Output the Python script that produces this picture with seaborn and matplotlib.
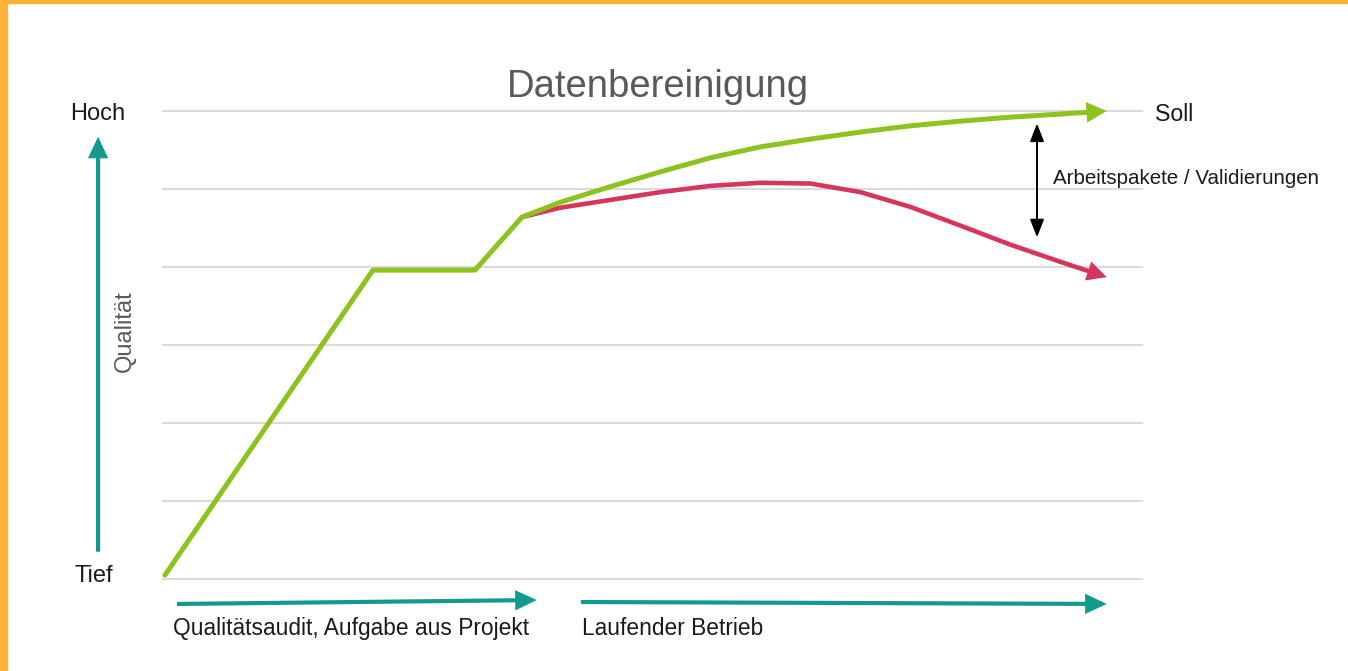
import matplotlib
matplotlib.use("Agg")
import matplotlib.pyplot as plt
import seaborn as sns
import pandas as pd
from matplotlib.patches import Rectangle

# ---- data ----
soll_x = [0.03, 2.15, 3.19, 3.67, 4.06, 4.57, 5.08, 5.59, 6.10, 6.61, 7.12,
          7.63, 8.14, 8.64, 9.15, 9.63]
soll_y = [0.05, 3.96, 3.96, 4.64, 4.83, 5.03, 5.22, 5.40, 5.54, 5.64, 5.73,
          5.81, 5.87, 5.92, 5.96, 6.00]
ist_x = [3.67, 4.06, 4.57, 5.08, 5.59, 6.10, 6.61, 7.12, 7.63, 8.14, 8.64,
         9.15, 9.63]
ist_y = [4.64, 4.76, 4.86, 4.96, 5.04, 5.08, 5.07, 4.96, 4.77, 4.53, 4.29,
         4.07, 3.87]
grid_levels = [0, 1, 2, 3, 4, 5, 6]

title = "Datenbereinigung"
y_high, y_low, y_name = "Hoch", "Tief", "Qualität"
soll_label = "Soll"
gap_label = "Arbeitspakete / Validierungen"
phase_labels = ["Qualitätsaudit, Aufgabe aus Projekt", "Laufender Betrieb"]

GREEN = "#8EC21F"
RED = "#D6365E"
TEAL = "#139A8F"
GRID = "#D9D9D9"
ORANGE = "#FBB237"
TXT = "#1A1A1A"
GRAY = "#595959"

sns.set_style("white")
plt.rcParams["font.family"] = ["Liberation Sans", "DejaVu Sans"]

fig = plt.figure(figsize=(13.48, 6.71), dpi=100)
ax = fig.add_axes([0.1202, 0.1255, 0.7277, 0.7207])
ax.set_xlim(0, 10)
ax.set_ylim(-0.1, 6.1)

for lv in grid_levels:
    ax.axhline(lv, color=GRID, lw=1.4, zorder=0)

# lines (all but the last segment, which is drawn as an arrow)
df_soll = pd.DataFrame({"x": soll_x[:-1], "y": soll_y[:-1]})
df_ist = pd.DataFrame({"x": ist_x[:-1], "y": ist_y[:-1]})
sns.lineplot(data=df_ist, x="x", y="y", sort=False, color=RED, lw=3.3, ax=ax,
             solid_joinstyle="round", zorder=2)
sns.lineplot(data=df_soll, x="x", y="y", sort=False, color=GREEN, lw=3.6, ax=ax,
             solid_joinstyle="round", zorder=3)

for xs, ys, c, w, z in [(soll_x, soll_y, GREEN, 3.6, 3), (ist_x, ist_y, RED, 3.3, 2)]:
    ax.annotate("", xy=(xs[-1], ys[-1]), xytext=(xs[-2], ys[-2]),
                arrowprops=dict(arrowstyle="-|>,head_length=0.55,head_width=0.28",
                                color=c, lw=w, mutation_scale=16,
                                shrinkA=0, shrinkB=0, joinstyle="miter",
                                capstyle="butt"), zorder=z)

# double arrow between Soll and Ist
gap_x, gap_top, gap_bot = 8.92, 5.84, 4.38
ax.annotate("", xy=(gap_x, gap_top), xytext=(gap_x, gap_bot),
            arrowprops=dict(arrowstyle="<|-|>,head_length=0.9,head_width=0.35",
                            color="black", lw=1.4, mutation_scale=12,
                            shrinkA=0, shrinkB=0))

# teal axis arrows (outside the plot area)
teal_style = dict(arrowstyle="-|>,head_length=0.7,head_width=0.33", color=TEAL,
                  lw=3.0, mutation_scale=15, shrinkA=0, shrinkB=0,
                  joinstyle="miter", capstyle="butt")
ax.annotate("", xy=(-0.652, 5.67), xytext=(-0.652, 0.35),
            arrowprops=teal_style, annotation_clip=False)
ax.annotate("", xy=(3.82, -0.27), xytext=(0.153, -0.32),
            arrowprops=teal_style, annotation_clip=False)
ax.annotate("", xy=(9.63, -0.32), xytext=(4.27, -0.295),
            arrowprops=teal_style, annotation_clip=False)

# texts
ax.text(5.06, 6.31, title, ha="center", va="center", fontsize=27.5, color=GRAY)
ax.text(-0.652, 5.96, y_high, ha="center", va="center", fontsize=17, color=TXT)
ax.text(-0.70, 0.04, y_low, ha="center", va="center", fontsize=17, color=TXT)
ax.text(-0.377, 3.18, y_name, ha="center", va="center", fontsize=17,
        color=GRAY, rotation=90)
ax.text(10.12, 5.96, soll_label, ha="left", va="center", fontsize=16.7, color=TXT)
ax.text(9.08, 5.13, gap_label, ha="left", va="center", fontsize=14.8, color=TXT)
ax.text(0.11, -0.64, phase_labels[0], ha="left", va="center", fontsize=16.4, color=TXT)
ax.text(4.28, -0.64, phase_labels[1], ha="left", va="center", fontsize=16.4, color=TXT)

ax.set_xlabel("")
ax.set_ylabel("")
ax.set_xticks([])
ax.set_yticks([])
for s in ax.spines.values():
    s.set_visible(False)

# orange frame (top and left)
fig.patches.append(Rectangle((0, 1 - 3 / 671), 1, 3 / 671, transform=fig.transFigure,
                             color=ORANGE, zorder=10))
fig.patches.append(Rectangle((0, 0), 7 / 1348, 1, transform=fig.transFigure,
                             color=ORANGE, zorder=10))

fig.savefig("out.png", dpi=100)
